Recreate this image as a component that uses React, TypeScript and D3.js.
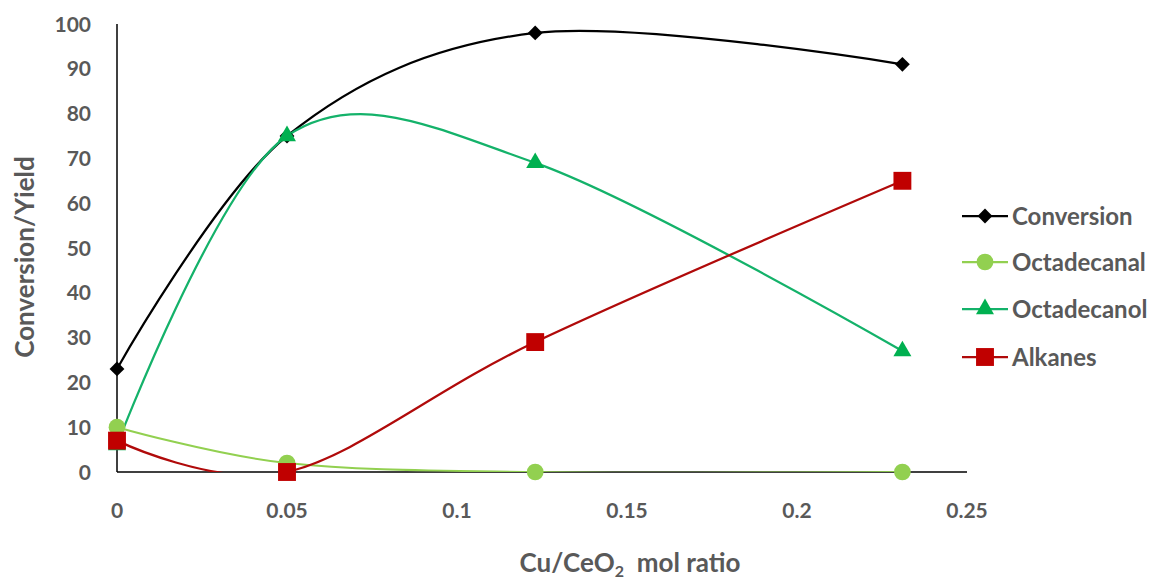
import { useEffect, useRef } from 'react'
import * as d3 from 'd3'

const xValues = [0, 0.05, 0.123, 0.231]
const conversion = [23, 75, 98, 91]
const octadecanal = [10, 2, 0, 0]
const octadecanol = [6, 75, 69, 27]
const alkanes = [7, 0, 29, 65]
const xTicks = [0, 0.05, 0.1, 0.15, 0.2, 0.25]
const yTicks = [0, 10, 20, 30, 40, 50, 60, 70, 80, 90, 100]

type Marker = 'diamond' | 'circle' | 'triangle' | 'square'

const SERIES: { name: string; values: number[]; line: string; fill: string; marker: Marker }[] = [
  { name: 'Conversion', values: conversion, line: '#000000', fill: '#000000', marker: 'diamond' },
  { name: 'Octadecanal', values: octadecanal, line: '#92D050', fill: '#92D050', marker: 'circle' },
  { name: 'Octadecanol', values: octadecanol, line: '#14B26A', fill: '#00B050', marker: 'triangle' },
  { name: 'Alkanes', values: alkanes, line: '#B00A0A', fill: '#C00000', marker: 'square' },
]

const W = 1157
const H = 585
const FONT = 'Lato, "Open Sans", sans-serif'
const GRAY = '#595959'

function markerPath(kind: Marker) {
  const sym = {
    diamond: d3.symbolDiamond2,
    circle: d3.symbolCircle,
    triangle: d3.symbolTriangle,
    square: d3.symbolSquare,
  }[kind]
  const size = { diamond: 140, circle: 220, triangle: 140, square: 320 }[kind]
  return d3.symbol(sym, size)()
}

export default function App() {
  const svgRef = useRef<SVGSVGElement | null>(null)

  useEffect(() => {
    if (!svgRef.current) return
    const svg = d3.select(svgRef.current)
    svg.selectAll('*').remove()

    const x = d3.scaleLinear().domain([0, 0.25]).range([117, 967])
    const y = d3.scaleLinear().domain([0, 100]).range([472, 24])

    svg.append('defs').append('clipPath').attr('id', 'plot-clip')
      .append('rect').attr('x', 100).attr('y', 0).attr('width', 880).attr('height', 472)

    // axes (lines only, no ticks)
    svg.append('line')
      .attr('x1', x(0)).attr('x2', x(0)).attr('y1', y(100)).attr('y2', y(0))
      .attr('stroke', '#000').attr('stroke-width', 1.5)
    svg.append('line')
      .attr('x1', x(0)).attr('x2', x(0.25)).attr('y1', y(0)).attr('y2', y(0))
      .attr('stroke', '#000').attr('stroke-width', 1.5)

    svg.append('g').selectAll('text').data(yTicks).join('text')
      .attr('x', 91).attr('y', d => y(d)).attr('dy', '0.36em')
      .attr('text-anchor', 'end')
      .style('font-family', FONT).style('font-size', '21px').style('font-weight', 700).style('fill', GRAY)
      .text(d => d)

    svg.append('g').selectAll('text').data(xTicks).join('text')
      .attr('x', d => x(d)).attr('y', 510).attr('dy', '0.36em')
      .attr('text-anchor', 'middle')
      .style('font-family', FONT).style('font-size', '21px').style('font-weight', 700).style('fill', GRAY)
      .text(d => String(d))

    svg.append('text')
      .attr('transform', `translate(25, 257) rotate(-90)`)
      .attr('text-anchor', 'middle').attr('dy', '0.36em')
      .style('font-family', FONT).style('font-size', '26px').style('font-weight', 700).style('fill', GRAY)
      .text('Conversion/Yield')

    const xt = svg.append('text')
      .attr('x', 630).attr('y', 572)
      .attr('text-anchor', 'middle')
      .style('font-family', FONT).style('font-size', '26px').style('font-weight', 700).style('fill', GRAY)
    xt.append('tspan').text('Cu/CeO')
    xt.append('tspan').attr('dy', 5).style('font-size', '16px').text('2')
    xt.append('tspan').attr('dy', -5).text('\u00a0 mol ratio')

    const line = d3.line<number>()
      .x((_d, i) => x(xValues[i]))
      .y(d => y(d))
      .curve(d3.curveCardinal.tension(0))

    const lines = svg.append('g').attr('clip-path', 'url(#plot-clip)')
    SERIES.forEach(s => {
      lines.append('path')
        .datum(s.values)
        .attr('fill', 'none')
        .attr('stroke', s.line)
        .attr('stroke-width', s.marker === 'circle' ? 2 : 2.25)
        .attr('d', line)
    })

    SERIES.forEach(s => {
      svg.append('g').selectAll('path').data(s.values).join('path')
        .attr('transform', (d, i) => `translate(${x(xValues[i])},${y(d)})`)
        .attr('d', markerPath(s.marker))
        .attr('fill', s.fill)
    })

    // legend
    const legY = [216, 262, 309, 357]
    SERIES.forEach((s, i) => {
      const g = svg.append('g').attr('transform', `translate(962,${legY[i]})`)
      g.append('line').attr('x1', 0).attr('x2', 46).attr('y1', 0).attr('y2', 0)
        .attr('stroke', s.line).attr('stroke-width', 2.25)
      g.append('path').attr('transform', 'translate(23,0)')
        .attr('d', markerPath(s.marker)).attr('fill', s.fill)
      g.append('text').attr('x', 50).attr('y', 0).attr('dy', '0.36em')
        .style('font-family', FONT).style('font-size', '24px').style('font-weight', 700).style('fill', GRAY)
        .text(s.name)
    })
  }, [])

  return (
    <div style={{ position: 'fixed', left: 0, top: 0, width: W, height: H, background: '#fff' }}>
      <svg ref={svgRef} width={W} height={H} viewBox={`0 0 ${W} ${H}`} />
    </div>
  )
}
